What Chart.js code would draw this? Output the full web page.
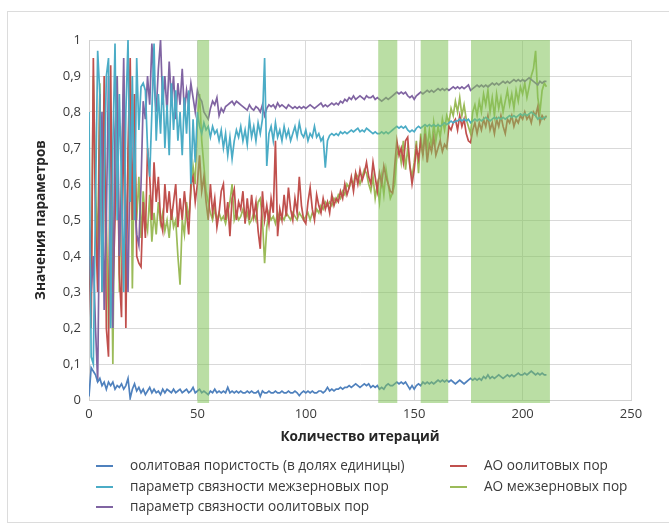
<!DOCTYPE html>
<html lang="ru">
<head>
<meta charset="utf-8">
<script src="https://cdn.jsdelivr.net/npm/chart.js@4.4.1/dist/chart.umd.min.js"></script>
<style>
    html, body { margin: 0; padding: 0; background: #fff; overflow: hidden; }
    #wrap { position: relative; width: 669px; height: 528px; }
    #frame { position: absolute; left: 7px; top: 11px; width: 700px; height: 510px; border: 1px solid #dcdcdc; }
    #chart { position: absolute; left: 0; top: 0; }
    .item { position: absolute; white-space: nowrap; font: 13.6px 'Open Sans', sans-serif; color: #3a3a3a; line-height: 16px; }
    .swatch { position: absolute; left: -34px; top: 8px; width: 17px; height: 2px; }
</style>
</head>
<body>
<div id="wrap">
    <div id="frame"></div>
    <canvas id="chart" width="669" height="528"></canvas>
    <div id="legend"></div>
</div>
<script>
// ========== DATA ==========
const xTicks = [0, 50, 100, 150, 200, 250];
const yTicks = [0, 0.1, 0.2, 0.3, 0.4, 0.5, 0.6, 0.7, 0.8, 0.9, 1];
const yTickLabels = ['0', '0,1', '0,2', '0,3', '0,4', '0,5', '0,6', '0,7', '0,8', '0,9', '1'];

// highlighted iteration ranges (green bands)
const bandStart = [50, 133.4, 153, 176.2];
const bandEnd = [55.4, 142.2, 165.7, 212.6];

const seriesNames = [
    'оолитовая пористость (в долях единицы)',
    'параметр связности межзерновых пор',
    'параметр связности оолитовых пор',
    'АО оолитовых пор',
    'АО межзерновых пор'
];
const seriesColors = ['#4f81bd', '#4bacc6', '#8064a2', '#c0504d', '#9bbb59'];

const porosity = [
    0.01, 0.09, 0.08, 0.07, 0.05, 0.06, 0.04, 0.05, 0.03, 0.05,
    0.04, 0.05, 0.03, 0.04, 0.035, 0.045, 0.03, 0.04, 0.06, 0.005,
    0.03, 0.045, 0.025, 0.035, 0.02, 0.03, 0.015, 0.025, 0.035, 0.02,
    0.03, 0.02, 0.025, 0.015, 0.03, 0.02, 0.03, 0.025, 0.02, 0.03,
    0.02, 0.025, 0.03, 0.02, 0.025, 0.03, 0.02, 0.025, 0.035, 0.02,
    0.025, 0.03, 0.02, 0.025, 0.02, 0.015, 0.025, 0.02, 0.03, 0.02,
    0.025, 0.02, 0.025, 0.02, 0.035, 0.02, 0.025, 0.02, 0.025, 0.02,
    0.025, 0.02, 0.02, 0.025, 0.02, 0.025, 0.02, 0.02, 0.025, 0.01,
    0.025, 0.02, 0.02, 0.025, 0.02, 0.02, 0.025, 0.02, 0.02, 0.025,
    0.02, 0.02, 0.025, 0.02, 0.02, 0.025, 0.02, 0.012, 0.02, 0.025,
    0.02, 0.025, 0.02, 0.025, 0.02, 0.02, 0.025, 0.025, 0.02, 0.025,
    0.035, 0.025, 0.03, 0.025, 0.03, 0.03, 0.035, 0.03, 0.035, 0.035,
    0.04, 0.035, 0.04, 0.045, 0.04, 0.035, 0.04, 0.045, 0.04, 0.045,
    0.035, 0.04, 0.035, 0.04, 0.03, 0.035, 0.03, 0.04, 0.045, 0.04,
    0.04, 0.045, 0.05, 0.045, 0.05, 0.045, 0.05, 0.04, 0.03, 0.04,
    0.03, 0.04, 0.045, 0.04, 0.05, 0.045, 0.05, 0.045, 0.05, 0.045,
    0.05, 0.055, 0.05, 0.055, 0.05, 0.055, 0.05, 0.055, 0.05, 0.045,
    0.05, 0.055, 0.05, 0.045, 0.05, 0.055, 0.06, 0.055, 0.06, 0.055,
    0.06, 0.055, 0.065, 0.06, 0.07, 0.06, 0.065, 0.06, 0.065, 0.07,
    0.065, 0.06, 0.065, 0.07, 0.065, 0.07, 0.065, 0.07, 0.075, 0.07,
    0.07, 0.075, 0.07, 0.075, 0.08, 0.075, 0.07, 0.075, 0.07, 0.075,
    0.07, 0.07
];

const connInter = [
    0.8, 0.12, 0.1, 0.55, 0.97, 0.85, 0.3, 0.6, 0.9, 0.95,
    0.2, 0.7, 0.99, 0.5, 0.85, 0.6, 0.3, 0.8, 1.0, 0.55,
    0.9, 0.5, 0.95, 0.75, 0.87, 0.88, 0.86, 0.7, 0.62, 0.8,
    0.99, 0.72, 0.85, 0.74, 0.9, 0.7, 0.82, 0.68, 0.88, 0.75,
    0.86, 0.72, 0.8, 0.68, 0.84, 0.74, 0.86, 0.6, 0.78, 0.66,
    0.8, 0.76, 0.74, 0.77, 0.75, 0.76, 0.73, 0.76, 0.74, 0.75,
    0.72, 0.75, 0.7, 0.74, 0.68, 0.73, 0.67, 0.72, 0.75, 0.73,
    0.76, 0.72, 0.75, 0.71, 0.78, 0.73, 0.76, 0.72, 0.77, 0.74,
    0.78, 0.95, 0.65, 0.74, 0.76, 0.72, 0.77, 0.73, 0.75, 0.72,
    0.76, 0.73, 0.75, 0.72, 0.74, 0.76, 0.73, 0.77, 0.74, 0.73,
    0.75, 0.72, 0.74, 0.73, 0.76, 0.73, 0.74, 0.72, 0.73, 0.645,
    0.72, 0.735, 0.74, 0.735, 0.74, 0.735, 0.745, 0.74, 0.745, 0.74,
    0.745, 0.75, 0.745, 0.75, 0.755, 0.745, 0.75, 0.745, 0.755, 0.75,
    0.745, 0.74, 0.745, 0.74, 0.74, 0.745, 0.74, 0.745, 0.74, 0.745,
    0.75, 0.755, 0.76, 0.755, 0.76, 0.755, 0.76, 0.75, 0.745, 0.75,
    0.745, 0.755, 0.76, 0.755, 0.76, 0.765, 0.76, 0.765, 0.76, 0.765,
    0.76, 0.765, 0.76, 0.765, 0.77, 0.765, 0.77, 0.775, 0.77, 0.775,
    0.775, 0.78, 0.775, 0.78, 0.775, 0.78, 0.77, 0.775, 0.78, 0.775,
    0.78, 0.775, 0.78, 0.785, 0.78, 0.775, 0.78, 0.785, 0.78, 0.785,
    0.78, 0.785, 0.78, 0.785, 0.79, 0.785, 0.79, 0.785, 0.79, 0.795,
    0.79, 0.795, 0.79, 0.795, 0.8, 0.795, 0.79, 0.78, 0.785, 0.78,
    0.785, 0.785
];

const connOolite = [
    0.5, 0.3, 0.4, 0.2, 0.05, 0.6, 0.8, 0.25, 0.5, 0.9,
    0.35, 0.2, 0.75, 0.9, 0.4, 0.6, 0.95, 0.5, 0.3, 0.7,
    0.85, 0.55, 0.46, 0.43, 0.6, 0.83, 0.78, 0.9, 0.82, 0.99,
    0.88, 0.8, 0.92, 1.0, 0.82, 0.9, 0.8, 0.94, 0.83, 0.9,
    0.78, 0.88, 0.82, 0.92, 0.8, 0.86, 0.82, 0.88, 0.84, 0.8,
    0.86, 0.84, 0.83, 0.8, 0.79, 0.78, 0.81, 0.83, 0.82, 0.84,
    0.79, 0.81, 0.8, 0.815, 0.82, 0.825, 0.83, 0.82, 0.83, 0.825,
    0.82, 0.815, 0.81, 0.805, 0.82, 0.81, 0.805, 0.815, 0.81, 0.8,
    0.82, 0.79, 0.81, 0.82, 0.815, 0.82, 0.81, 0.825, 0.815, 0.82,
    0.815, 0.81, 0.82, 0.815, 0.81, 0.815, 0.81, 0.815, 0.81, 0.815,
    0.81, 0.815, 0.82, 0.815, 0.81, 0.815, 0.82, 0.825, 0.815, 0.82,
    0.815, 0.82, 0.825, 0.82, 0.825, 0.82, 0.83, 0.825, 0.835, 0.83,
    0.84, 0.835, 0.845, 0.835, 0.84, 0.845, 0.84, 0.835, 0.845, 0.84,
    0.84, 0.845, 0.835, 0.84, 0.835, 0.83, 0.835, 0.84, 0.835, 0.84,
    0.845, 0.85, 0.855, 0.85, 0.855, 0.85, 0.855, 0.845, 0.84, 0.845,
    0.835, 0.845, 0.85, 0.855, 0.85, 0.855, 0.86, 0.855, 0.86, 0.855,
    0.86, 0.865, 0.86, 0.865, 0.86, 0.865, 0.86, 0.865, 0.87, 0.865,
    0.87, 0.865, 0.87, 0.865, 0.87, 0.875, 0.86, 0.865, 0.87, 0.875,
    0.87, 0.875, 0.87, 0.875, 0.87, 0.875, 0.88, 0.875, 0.88, 0.875,
    0.88, 0.885, 0.88, 0.885, 0.88, 0.885, 0.89, 0.885, 0.89, 0.885,
    0.89, 0.885, 0.89, 0.895, 0.89, 0.885, 0.88, 0.875, 0.885, 0.88,
    0.885, 0.885
];

const aoOolite = [
    0.4, 0.2, 0.95, 0.5, 0.3, 0.85, 0.4, 0.9, 0.2, 0.12,
    0.93, 0.3, 0.5, 0.8, 0.35, 0.23, 0.9, 0.2, 0.7, 0.95,
    0.5, 0.85, 0.4, 0.38, 0.37, 0.55, 0.45, 0.7, 0.62, 0.5,
    0.66, 0.55, 0.62, 0.5, 0.47, 0.6, 0.52, 0.58, 0.5, 0.55,
    0.6, 0.48, 0.56, 0.5, 0.58, 0.52, 0.46, 0.6, 0.62, 0.55,
    0.6, 0.68, 0.58, 0.62, 0.55, 0.5, 0.6, 0.52, 0.56, 0.48,
    0.52, 0.58, 0.6, 0.5, 0.55, 0.455, 0.56, 0.585, 0.5, 0.55,
    0.53, 0.58, 0.49, 0.56, 0.5, 0.57, 0.51, 0.55, 0.47, 0.42,
    0.58, 0.5, 0.54, 0.49, 0.56, 0.52, 0.72, 0.455, 0.53, 0.5,
    0.57, 0.51, 0.59, 0.53, 0.5, 0.56, 0.52, 0.62, 0.54, 0.5,
    0.49, 0.55, 0.59, 0.53, 0.5, 0.57, 0.54, 0.52, 0.56, 0.53,
    0.55, 0.52, 0.57, 0.54, 0.56, 0.55, 0.58, 0.56, 0.6, 0.57,
    0.59, 0.62, 0.58, 0.63, 0.6, 0.64, 0.61, 0.63, 0.66, 0.62,
    0.6, 0.66, 0.62, 0.58, 0.63, 0.6, 0.65, 0.62, 0.6, 0.58,
    0.575, 0.65, 0.72, 0.68, 0.7, 0.66, 0.72, 0.73, 0.65, 0.6,
    0.64, 0.7, 0.67, 0.72, 0.68, 0.74, 0.66, 0.71, 0.69, 0.73,
    0.68, 0.7, 0.72, 0.69, 0.71, 0.7, 0.76, 0.75, 0.77, 0.78,
    0.75, 0.79, 0.76, 0.78, 0.74, 0.72, 0.715, 0.75, 0.77, 0.74,
    0.77, 0.75, 0.78, 0.76, 0.79, 0.75, 0.77, 0.74, 0.78, 0.76,
    0.79, 0.76, 0.74, 0.78, 0.77, 0.79, 0.76, 0.78, 0.77, 0.79,
    0.78, 0.8, 0.78, 0.79, 0.77, 0.8, 0.79, 0.815, 0.77, 0.79,
    0.78, 0.79
];

const aoInter = [
    0.5, 0.3, 0.9, 0.6, 0.4, 0.88, 0.3, 0.75, 0.5, 0.2,
    0.6, 0.1, 0.7, 0.9, 0.3, 0.65, 0.85, 0.45, 0.6, 0.9,
    0.31, 0.7, 0.5, 0.62, 0.45, 0.58, 0.5, 0.47, 0.57, 0.44,
    0.52, 0.46, 0.55, 0.49, 0.52, 0.47, 0.5, 0.45, 0.53, 0.48,
    0.5, 0.4, 0.32, 0.5, 0.46, 0.55, 0.5, 0.58, 0.65, 0.6,
    0.78, 0.85, 0.72, 0.65, 0.58, 0.55, 0.52, 0.5, 0.53, 0.5,
    0.52, 0.5, 0.51, 0.49, 0.52, 0.55, 0.6, 0.5, 0.52, 0.5,
    0.51, 0.53, 0.5, 0.52, 0.49, 0.5, 0.52, 0.5, 0.55, 0.56,
    0.5, 0.38, 0.48, 0.52, 0.5, 0.51, 0.49, 0.52, 0.5, 0.51,
    0.5, 0.52, 0.51, 0.5, 0.52, 0.51, 0.5, 0.52, 0.51, 0.5,
    0.51, 0.52, 0.5, 0.52, 0.51, 0.53, 0.52, 0.54, 0.53, 0.55,
    0.54, 0.55, 0.54, 0.56, 0.55, 0.57, 0.56, 0.58, 0.57, 0.6,
    0.59, 0.61, 0.6, 0.63, 0.62, 0.6, 0.62, 0.64, 0.63, 0.6,
    0.58, 0.62, 0.56, 0.6, 0.55, 0.62, 0.57, 0.64, 0.6, 0.56,
    0.575, 0.6, 0.68, 0.7, 0.66, 0.72, 0.64, 0.7, 0.65, 0.62,
    0.66, 0.72, 0.63, 0.74, 0.68, 0.76, 0.7, 0.75, 0.7, 0.77,
    0.72, 0.76, 0.73, 0.78, 0.75, 0.79, 0.77, 0.81, 0.79, 0.83,
    0.8, 0.84, 0.79, 0.82, 0.78, 0.76, 0.74, 0.8, 0.82, 0.79,
    0.83, 0.8, 0.85, 0.82, 0.86, 0.8, 0.84, 0.79, 0.85, 0.81,
    0.84, 0.8, 0.83, 0.86, 0.82, 0.85, 0.81, 0.86, 0.83, 0.87,
    0.85, 0.88, 0.84, 0.87, 0.9, 0.92, 0.97, 0.84, 0.8, 0.86,
    0.88, 0.87
];

const iterations = porosity.map((_, i) => i);
const allSeries = [porosity, connInter, connOolite, aoOolite, aoInter];

// ========== BANDS ==========
const bandPlugin = {
    id: 'bands',
    afterDatasetsDraw(chart) {
        const { ctx, chartArea, scales: { x } } = chart;
        ctx.save();
        ctx.fillStyle = 'rgba(130, 195, 90, 0.55)';
        bandStart.forEach((s, i) => {
            const x0 = x.getPixelForValue(s);
            const x1 = x.getPixelForValue(bandEnd[i]);
            ctx.fillRect(x0, chartArea.top, x1 - x0, chartArea.bottom - chartArea.top + 3);
        });
        ctx.restore();
    }
};

// ========== CHART ==========
const tickFont = { family: "'Open Sans', sans-serif", size: 13 };
const titleFont = { family: "'Open Sans', sans-serif", size: 13.6, weight: 'bold' };

new Chart(document.getElementById('chart').getContext('2d'), {
    type: 'line',
    data: {
        datasets: allSeries.map((vals, i) => ({
            label: seriesNames[i],
            data: vals.map((v, j) => ({ x: iterations[j], y: v })),
            borderColor: seriesColors[i],
            borderWidth: 1.7,
            pointRadius: 0,
            tension: 0,
            fill: false
        }))
    },
    options: {
        responsive: false,
        animation: false,
        layout: { padding: { left: 29, top: 40, right: 38, bottom: 79 } },
        plugins: { legend: { display: false }, tooltip: { enabled: false } },
        scales: {
            x: {
                type: 'linear', min: 0, max: 250,
                afterBuildTicks: s => { s.ticks = xTicks.map(v => ({ value: v })); },
                afterFit: s => { s.height = 49; },
                grid: { color: '#d9d9d9', drawTicks: false },
                border: { color: '#d0d0d0' },
                ticks: { padding: 6, font: tickFont, color: '#3a3a3a', maxRotation: 0 },
                title: { display: true, text: 'Количество итераций', font: titleFont, color: '#262626' }
            },
            y: {
                min: 0, max: 1,
                afterBuildTicks: s => { s.ticks = yTicks.map(v => ({ value: v })); },
                afterFit: s => { s.width = 60; },
                grid: { color: '#d9d9d9', drawTicks: false },
                border: { color: '#d0d0d0' },
                ticks: { padding: 8, font: tickFont, color: '#3a3a3a', callback: (v, i) => yTickLabels[i] },
                title: { display: true, text: 'Значения параметров', font: titleFont, color: '#262626' }
            }
        }
    },
    plugins: [bandPlugin]
});

// ========== LEGEND ==========
const legendPos = [[130, 457], [130, 478], [130, 498], [484, 457], [484, 478]];
document.getElementById('legend').innerHTML = seriesNames.map((name, i) =>
    `<div class="item" style="left:${legendPos[i][0]}px;top:${legendPos[i][1]}px">
        <span class="swatch" style="background:${seriesColors[i]}"></span>${name}
    </div>`).join('');
</script>
</body>
</html>
